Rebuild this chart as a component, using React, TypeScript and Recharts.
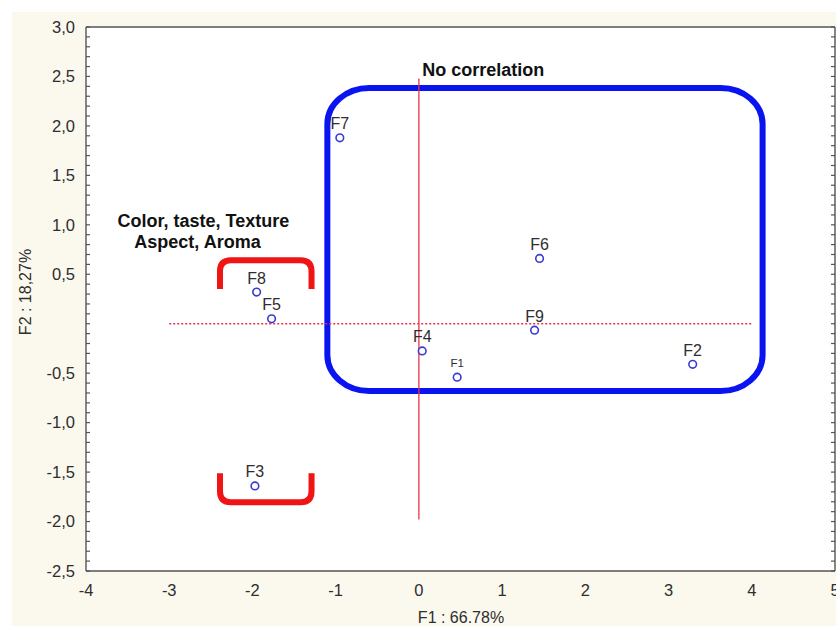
import {
  ScatterChart, Scatter, XAxis, YAxis, CartesianGrid,
  ReferenceLine, ReferenceArea, ReferenceDot,
} from 'recharts';

/* ── Palette ─────────────────────────────────────────────────────────────── */

const CREAM  = '#FBF8EE';
const FRAME  = '#555555';
const INK    = '#2E2E2E';
const POINT  = '#3B3BD0';
const BOX    = '#0A14F0';
const BRACE  = '#F01414';
const AXIS_0 = '#E8344A';
const FONT   = "'Liberation Sans', Arial, sans-serif";

/* ── Data ────────────────────────────────────────────────────────────────── */

const factors  = ['F1', 'F2', 'F3', 'F4', 'F5', 'F6', 'F7', 'F8', 'F9'];
const f1Scores = [0.46, 3.29, -1.97, 0.04, -1.77, 1.45, -0.95, -1.95, 1.39];
const f2Scores = [-0.54, -0.41, -1.64, -0.275, 0.05, 0.66, 1.88, 0.32, -0.065];

const points = factors.map((name, i) => ({ name, x: f1Scores[i], y: f2Scores[i] }));

const xTicks = [-4, -3, -2, -1, 0, 1, 2, 3, 4, 5];
const yTicks = [-2.5, -2, -1.5, -1, -0.5, 0, 0.5, 1, 1.5, 2, 2.5, 3];
const xMinor = Array.from({ length: 37 }, (_, i) => -4 + i * 0.25);
const yMinor = Array.from({ length: 56 }, (_, i) => Math.round((-2.5 + i * 0.1) * 10) / 10);

// group outlines (data coordinates)
const noCorrBox   = { x1: -1.1, x2: 4.13, y1: -0.68, y2: 2.383 };
const upperBrace  = { x1: -2.39, x2: -1.29, y1: 0.35, y2: 0.643 };
const lowerBrace  = { x1: -2.39, x2: -1.29, y1: -1.805, y2: -1.512 };

/* ── Shapes ──────────────────────────────────────────────────────────────── */

function norm(p: any) {
  const top = Math.min(p.y, p.y + p.height);
  const left = Math.min(p.x, p.x + p.width);
  return { left, top, w: Math.abs(p.width), h: Math.abs(p.height) };
}

function RoundBox(p: any) {
  const { left, top, w, h } = norm(p);
  return <rect x={left} y={top} width={w} height={h} rx={42} ry={36}
    fill="none" stroke={BOX} strokeWidth={6} />;
}

function Brace(open: 'down' | 'up') {
  return (p: any) => {
    const { left, top, w, h } = norm(p);
    const r = 11;
    const right = left + w;
    const bottom = top + h;
    const d = open === 'down'
      ? `M${left},${bottom} L${left},${top + r} Q${left},${top} ${left + r},${top} L${right - r},${top} Q${right},${top} ${right},${top + r} L${right},${bottom}`
      : `M${left},${top} L${left},${bottom - r} Q${left},${bottom} ${left + r},${bottom} L${right - r},${bottom} Q${right},${bottom} ${right},${bottom - r} L${right},${top}`;
    return <path d={d} fill="none" stroke={BRACE} strokeWidth={6} />;
  };
}

function FactorPoint(p: any) {
  const name = p.payload?.name ?? p.name;
  const small = name === 'F1';
  return (
    <g>
      <circle cx={p.cx} cy={p.cy} r={3.8} fill="#fff" stroke={POINT} strokeWidth={1.6} />
      <text x={p.cx} y={p.cy - 14} textAnchor="middle" dominantBaseline="central"
        fontFamily={FONT} fontSize={small ? 11.5 : 16} fill={INK}>{name}</text>
    </g>
  );
}

function note(text: string, anchor: 'start' | 'middle') {
  return (p: any) => (
    <text x={p.cx} y={p.cy} textAnchor={anchor} dominantBaseline="central"
      fontFamily={FONT} fontSize={18} fontWeight="bold" fill="#111">
      {text}
    </text>
  );
}

const NoLabel = () => <g />;

const fmtY = (v: number) => (v === 0 ? '' : v.toFixed(1).replace('.', ','));

/* ── Chart ───────────────────────────────────────────────────────────────── */

export default function App() {
  return (
    <div style={{ position: 'absolute', left: 0, top: 0, width: 836, height: 626, background: '#fff' }}>
      <div style={{ position: 'absolute', left: 12, top: 12, right: 0, bottom: 0, background: CREAM }} />
      <div style={{ position: 'absolute', left: 0, top: 0 }}>
        <ScatterChart width={836} height={626} margin={{ top: 27, right: 1, bottom: 25, left: 26 }}>
          <CartesianGrid fill="#fff" horizontal={false} vertical={false} />

          {/* labelled axes */}
          <XAxis type="number" dataKey="x" domain={[-4, 5]} ticks={xTicks} interval={0}
            allowDataOverflow tickLine={false} tickMargin={7}
            axisLine={{ stroke: FRAME, strokeWidth: 1.4 }}
            tick={{ fill: INK, fontSize: 16.5, fontFamily: FONT }}
            label={{
              content: ({ viewBox }: any) => (
                <text x={viewBox.x + 375} y={viewBox.y + 46} textAnchor="middle" dominantBaseline="central"
                  fontFamily={FONT} fontSize={16} fill={INK}>F1 : 66.78%</text>
              ),
            }} />
          <YAxis type="number" dataKey="y" domain={[-2.5, 3]} ticks={yTicks} interval={0}
            allowDataOverflow tickLine={false} tickMargin={5} width={60}
            axisLine={{ stroke: FRAME, strokeWidth: 1.4 }}
            tickFormatter={fmtY}
            tick={{ fill: INK, fontSize: 16.5, fontFamily: FONT }}
            label={{
              content: ({ viewBox }: any) => {
                const x = viewBox.x - 1;
                const y = viewBox.y + 265;
                return (
                  <text x={x} y={y} transform={`rotate(-90 ${x} ${y})`} textAnchor="middle"
                    dominantBaseline="central" fontFamily={FONT} fontSize={16} fill={INK}>F2 : 18,27%</text>
                );
              },
            }} />

          {/* inward tick marks and frame */}
          <XAxis xAxisId="bm" type="number" domain={[-4, 5]} ticks={xMinor} interval={0} allowDataOverflow
            orientation="bottom" mirror tick={NoLabel} tickSize={4} axisLine={false}
            tickLine={{ stroke: FRAME, strokeWidth: 1.2 }} />
          <XAxis xAxisId="tm" type="number" domain={[-4, 5]} ticks={xMinor} interval={0} allowDataOverflow
            orientation="top" mirror tick={NoLabel} tickSize={4}
            axisLine={{ stroke: FRAME, strokeWidth: 1.4 }}
            tickLine={{ stroke: FRAME, strokeWidth: 1.2 }} />
          <YAxis yAxisId="lm" type="number" domain={[-2.5, 3]} ticks={yMinor} interval={0} allowDataOverflow
            orientation="left" mirror tick={NoLabel} tickSize={4} axisLine={false}
            tickLine={{ stroke: FRAME, strokeWidth: 1.2 }} />
          <YAxis yAxisId="rm" type="number" domain={[-2.5, 3]} ticks={yMinor} interval={0} allowDataOverflow
            orientation="right" mirror tick={NoLabel} tickSize={4}
            axisLine={{ stroke: FRAME, strokeWidth: 1.4 }}
            tickLine={{ stroke: FRAME, strokeWidth: 1.2 }} />

          {/* origin lines */}
          <ReferenceLine segment={[{ x: 0, y: 2.48 }, { x: 0, y: -1.98 }]} stroke={AXIS_0} strokeWidth={1.3} />
          <ReferenceLine segment={[{ x: -3, y: 0 }, { x: 4, y: 0 }]} stroke={AXIS_0} strokeWidth={1.3}
            strokeDasharray="2 2" />

          {/* group outlines */}
          <ReferenceArea {...noCorrBox} shape={RoundBox} />
          <ReferenceArea {...upperBrace} shape={Brace('down')} />
          <ReferenceArea {...lowerBrace} shape={Brace('up')} />

          {/* notes */}
          <ReferenceDot x={0.04} y={2.565} r={1} shape={note('No correlation', 'start')} />
          <ReferenceDot x={-2.59} y={1.037} r={1} shape={note('Color, taste, Texture', 'middle')} />
          <ReferenceDot x={-2.66} y={0.824} r={1} shape={note('Aspect, Aroma', 'middle')} />

          <Scatter data={points} isAnimationActive={false} shape={FactorPoint} />
        </ScatterChart>
      </div>
    </div>
  );
}
